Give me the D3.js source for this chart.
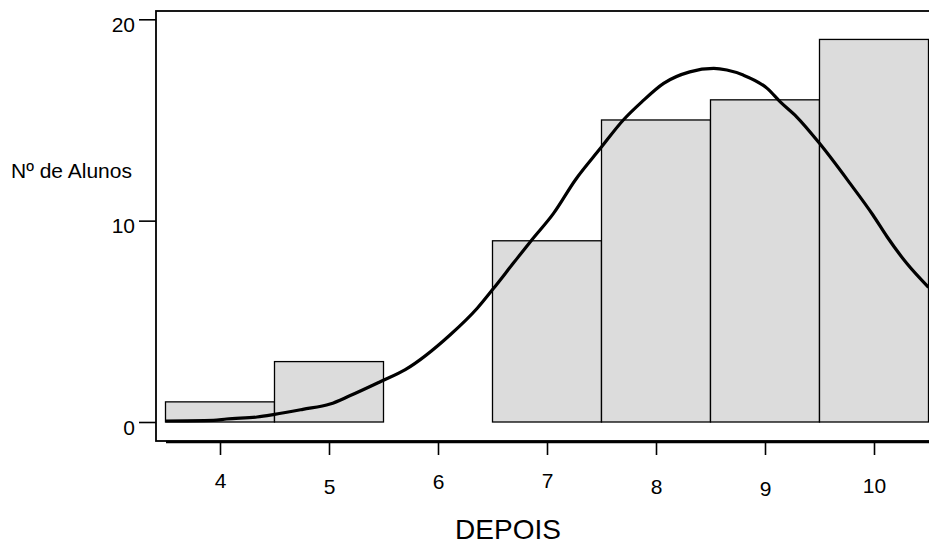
<!DOCTYPE html>
<html>
<head>
<meta charset="utf-8">
<script src="https://cdn.jsdelivr.net/npm/d3@7"></script>
<style>
  body { margin: 0; background: #fff; }
  text { font-family: "Liberation Sans", Arial, sans-serif; fill: #000; }
</style>
</head>
<body>
<script>
// histogram counts per grade
const grades = [4, 5, 6, 7, 8, 9, 10];
const counts = [1, 3, 0, 9, 15, 16, 19];
const yTicks = [0, 10, 20];

// fitted normal curve (grade, count)
const curveX = [3.5, 3.94, 4.06, 4.34, 4.5, 4.76, 5.01, 5.19, 5.47, 5.7, 6.11, 6.36, 6.51, 6.69, 6.86, 7.06, 7.26, 7.49, 7.7, 7.87, 8.07, 8.31, 8.53, 8.65, 8.8, 9.02, 9.14, 9.29, 9.5, 9.78, 9.99, 10.12, 10.3, 10.5];
const curveY = [0.05, 0.08, 0.15, 0.25, 0.38, 0.63, 0.89, 1.3, 2.0, 2.6, 4.32, 5.65, 6.64, 7.88, 9.04, 10.36, 12.02, 13.59, 15.0, 15.9, 16.82, 17.39, 17.56, 17.48, 17.23, 16.57, 15.9, 15.16, 13.84, 11.85, 10.28, 9.2, 7.88, 6.69];

const yLabel = "Nº de Alunos";
const xLabel = "DEPOIS";

// the tick labels under the x axis sit at uneven heights
const xLabelDrop = [46, 52, 47, 46, 52, 54, 51];

function drawFrame(svg) {
  svg.append("rect")
    .attr("x", 156)
    .attr("y", 11)
    .attr("width", 800)
    .attr("height", 430)
    .attr("fill", "none")
    .attr("stroke", "#000")
    .attr("stroke-width", 1.8);
}

function drawBars(svg, x, y) {
  const binW = x(1) - x(0);
  svg.selectAll("rect.bar")
    .data(grades.map((g, i) => ({ g: g, n: counts[i] })).filter(d => d.n > 0))
    .enter()
    .append("rect")
    .attr("class", "bar")
    .attr("x", d => x(d.g - 0.5))
    .attr("y", d => y(d.n))
    .attr("width", binW)
    .attr("height", d => y(0) - y(d.n))
    .attr("fill", "#dcdcdc")
    .attr("stroke", "#000")
    .attr("stroke-width", 1.3);
}

function drawCurve(svg, x, y) {
  const line = d3.line()
    .x(d => x(d[0]))
    .y(d => y(d[1]))
    .curve(d3.curveMonotoneX);

  svg.append("path")
    .datum(curveX.map((v, i) => [v, curveY[i]]))
    .attr("d", line)
    .attr("fill", "none")
    .attr("stroke", "#000")
    .attr("stroke-width", 3.2)
    .attr("stroke-linejoin", "round");
}

function xAxis(svg, x) {
  const axis = d3.axisBottom(x)
    .tickValues(grades)
    .tickSize(13)
    .tickSizeOuter(0)
    .tickFormat(d3.format("d"));

  const g = svg.append("g")
    .attr("transform", "translate(0,442)")
    .call(axis);

  g.select(".domain").remove();
  g.append("line")
    .attr("x1", 166)
    .attr("x2", 935)
    .attr("stroke", "#000")
    .attr("stroke-width", 2.6);

  g.selectAll(".tick line").attr("stroke", "#000").attr("stroke-width", 1.6);
  g.selectAll(".tick text")
    .attr("y", (d, i) => xLabelDrop[i])
    .attr("dy", 0)
    .style("font-size", "21px")
    .style("font-family", "Liberation Sans, Arial, sans-serif");
}

function yAxis(svg, y) {
  const axis = d3.axisLeft(y)
    .tickValues(yTicks)
    .tickSize(17)
    .tickPadding(4);

  const g = svg.append("g")
    .attr("transform", "translate(156,0)")
    .call(axis);

  g.select(".domain").remove();
  g.selectAll(".tick line").attr("stroke", "#000").attr("stroke-width", 1.6);
  g.selectAll(".tick text")
    .attr("dy", 12)
    .style("font-size", "21px")
    .style("font-family", "Liberation Sans, Arial, sans-serif");
}

function main() {
  const svg = d3.select("body")
    .append("svg")
    .attr("width", 929)
    .attr("height", 547);

  const x = d3.scaleLinear().domain([3.5, 10.5]).range([165.5, 928.5]);
  const y = d3.scaleLinear().domain([0, 20]).range([422, 19.3]);

  drawFrame(svg);
  drawBars(svg, x, y);
  drawCurve(svg, x, y);
  xAxis(svg, x);
  yAxis(svg, y);

  svg.append("text")
    .attr("x", 11)
    .attr("y", 178)
    .style("font-size", "21px")
    .text(yLabel);

  svg.append("text")
    .attr("x", 508)
    .attr("y", 539)
    .attr("text-anchor", "middle")
    .style("font-size", "28px")
    .text(xLabel);
}

main();
</script>
</body>
</html>
